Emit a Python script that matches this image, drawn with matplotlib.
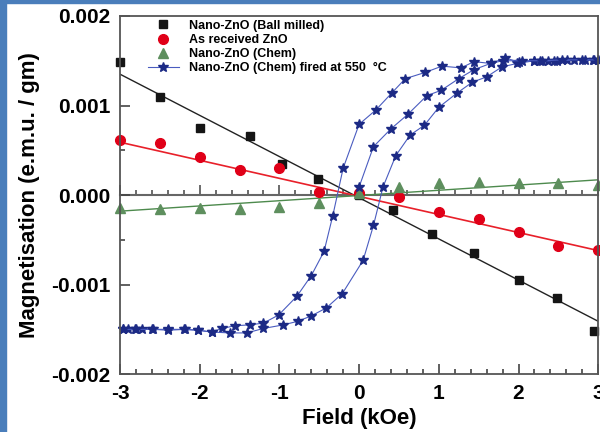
import matplotlib
matplotlib.use('Agg')
import matplotlib.pyplot as plt
from matplotlib.ticker import MultipleLocator, FormatStrFormatter
from matplotlib.patches import Rectangle

plt.rcParams['font.family'] = ['Liberation Sans', 'DejaVu Sans']
plt.rcParams['font.weight'] = 'bold'
plt.rcParams['axes.unicode_minus'] = False

# data
field = [-3, -2.5, -2, -1.5, -1, -0.5, 0, 0.5, 1, 1.5, 2, 2.5, 3]
ball_x = [-3, -2.5, -2, -1.37, -0.97, -0.51, 0, 0.43, 0.92, 1.44, 2.0, 2.48, 2.95]
ball_m = [0.00149, 0.0011, 0.00075, 0.00066, 0.00035, 0.00018, 0.0,
          -0.00017, -0.00044, -0.00065, -0.00095, -0.00115, -0.00152]
recv_m = [0.00061, 0.00058, 0.00042, 0.00028, 0.0003, 0.00003, 0.00002,
          -0.00002, -0.00019, -0.00027, -0.00041, -0.00057, -0.00061]
chem_m = [-0.00015, -0.00016, -0.00015, -0.00016, -0.00013, -0.00009, 0.00002,
          0.00009, 0.00013, 0.00015, 0.00013, 0.00013, 0.00011]

# linear fits (end points)
fit_x = [-3, 3]
ball_fit = [0.00135, -0.00141]
recv_fit = [0.00059, -0.00062]
chem_fit = [-0.00018, 0.00017]

# hysteresis loop of fired sample
desc_h = [3.0, 2.94, 2.84, 2.61, 2.48, 2.37, 2.27, 2.19, 2.0, 1.83, 1.65, 1.44, 1.28,
          1.04, 0.83, 0.58, 0.41, 0.21, 0.0, -0.2, -0.33, -0.44, -0.6, -0.78, -1.01,
          -1.2, -1.37, -1.56, -1.72, -1.85, -2.02, -2.18, -2.4, -2.58, -2.72, -2.81,
          -2.9, -2.96]
desc_m = [0.00151, 0.00151, 0.00151, 0.00151, 0.0015, 0.0015, 0.0015, 0.0015,
          0.00149, 0.00153, 0.00147, 0.00149, 0.00142, 0.00144, 0.00137, 0.0013,
          0.00114, 0.00095, 0.00079, 0.0003, -0.00023, -0.00063, -0.0009, -0.00113,
          -0.00134, -0.00143, -0.00145, -0.00146, -0.00149, -0.00153, -0.00151,
          -0.0015, -0.00151, -0.0015, -0.0015, -0.0015, -0.0015, -0.0015]
asc_h = [-2.96, -2.8, -2.6, -2.4, -2.2, -2.02, -1.85, -1.62, -1.41, -1.2, -0.95,
         -0.77, -0.6, -0.41, -0.21, 0.05, 0.18, 0.3, 0.46, 0.64, 0.82, 1.0, 1.23,
         1.42, 1.6, 1.79, 1.98, 2.2, 2.45, 2.7, 2.95]
asc_m = [-0.0015, -0.0015, -0.0015, -0.0015, -0.0015, -0.00151, -0.00153, -0.00154,
         -0.00154, -0.00149, -0.00145, -0.00141, -0.00135, -0.00126, -0.0011,
         -0.00073, -0.00034, 0.00009, 0.00044, 0.00067, 0.00078, 0.00098, 0.00114,
         0.00126, 0.00132, 0.00143, 0.00147, 0.0015, 0.0015, 0.00151, 0.00151]
virgin_h = [0.0, 0.18, 0.4, 0.61, 0.85, 1.03, 1.25, 1.44, 1.65, 1.8, 2.05, 2.3,
            2.55, 2.8, 3.0]
virgin_m = [0.00009, 0.00054, 0.00074, 0.0009, 0.00111, 0.00117, 0.0013, 0.0014,
            0.00147, 0.0015, 0.0015, 0.0015, 0.00151, 0.00151, 0.00151]

labels = ['Nano-ZnO (Ball milled)', 'As received ZnO', 'Nano-ZnO (Chem)',
          'Nano-ZnO (Chem) fired at 550  \u00b0C']

fig = plt.figure(figsize=(6, 4.32), dpi=100)
# blue page border of the source
fig.patches.append(Rectangle((0, 0), 0.01, 1, transform=fig.transFigure,
                             color='#4a7ebb', zorder=0))
fig.patches.append(Rectangle((0, 0.993), 1, 0.007, transform=fig.transFigure,
                             color='#4a7ebb', zorder=0))
ax = fig.add_axes([0.2, 0.134, 0.797, 0.829])

ax.plot(fit_x, ball_fit, color='#222222', lw=1.0)
ax.plot(fit_x, recv_fit, color='#e8202a', lw=1.2)
ax.plot(fit_x, chem_fit, color='#4d8a4d', lw=1.0)

ax.plot(ball_x, ball_m, 's', color='#151515', ms=6, clip_on=False, label=labels[0])
ax.plot(field, recv_m, 'o', color='#e00018', ms=7, clip_on=False, label=labels[1])
ax.plot(field, chem_m, '^', color='#5e8f5e', ms=7, clip_on=False, label=labels[2])

star = dict(color='#4a5cc0', lw=0.8, marker='*', ms=7.5, mfc='#1c2a85',
            mec='#1c2a85', clip_on=False)
ax.plot(desc_h, desc_m, label=labels[3], **star)
ax.plot(asc_h, asc_m, **star)
ax.plot(virgin_h, virgin_m, **star)

ax.set_xlim(-3, 3)
ax.set_ylim(-0.002, 0.002)
ax.xaxis.set_major_locator(MultipleLocator(1))
ax.xaxis.set_minor_locator(MultipleLocator(0.2))
ax.yaxis.set_major_locator(MultipleLocator(0.001))
ax.yaxis.set_minor_locator(MultipleLocator(0.0005))
ax.yaxis.set_major_formatter(FormatStrFormatter('%.3f'))
ax.tick_params(which='both', direction='in', top=False, right=False,
               color='#444444', width=1.2, labelsize=15, pad=7)
ax.tick_params(which='major', length=7)
ax.tick_params(which='minor', length=3.5)
for s in ax.spines.values():
    s.set_color('#555555')
    s.set_linewidth(1.3)

# inner zero axis with ticks
ax2 = ax.twiny()
ax2.set_xlim(-3, 3)
ax2.xaxis.set_major_locator(MultipleLocator(1))
ax2.xaxis.set_minor_locator(MultipleLocator(0.2))
ax2.xaxis.set_ticks_position('bottom')
ax2.spines['bottom'].set_position(('data', 0))
for k in ['top', 'left', 'right']:
    ax2.spines[k].set_visible(False)
ax2.spines['bottom'].set_color('#666666')
ax2.spines['bottom'].set_linewidth(1.5)
ax2.tick_params(which='both', direction='in', labelbottom=False, labeltop=False,
                color='#444444', width=1.1)
ax2.tick_params(which='major', length=7)
ax2.tick_params(which='minor', length=3.5)
ax2.set_zorder(0)
ax.set_zorder(1)
ax.patch.set_visible(False)

ax.set_xlabel('Field (kOe)', fontsize=16, fontweight='bold', labelpad=4)
ax.set_ylabel('Magnetisation (e.m.u. / gm)', fontsize=16, fontweight='bold',
              labelpad=8)

ax.legend(loc='upper left', bbox_to_anchor=(0.05, 1.0), frameon=False,
          prop={'size': 9, 'weight': 'bold'}, handlelength=2.5,
          handletextpad=0.8, labelspacing=0.18, borderpad=0.3, borderaxespad=0)

fig.savefig('out.png', dpi=100)
